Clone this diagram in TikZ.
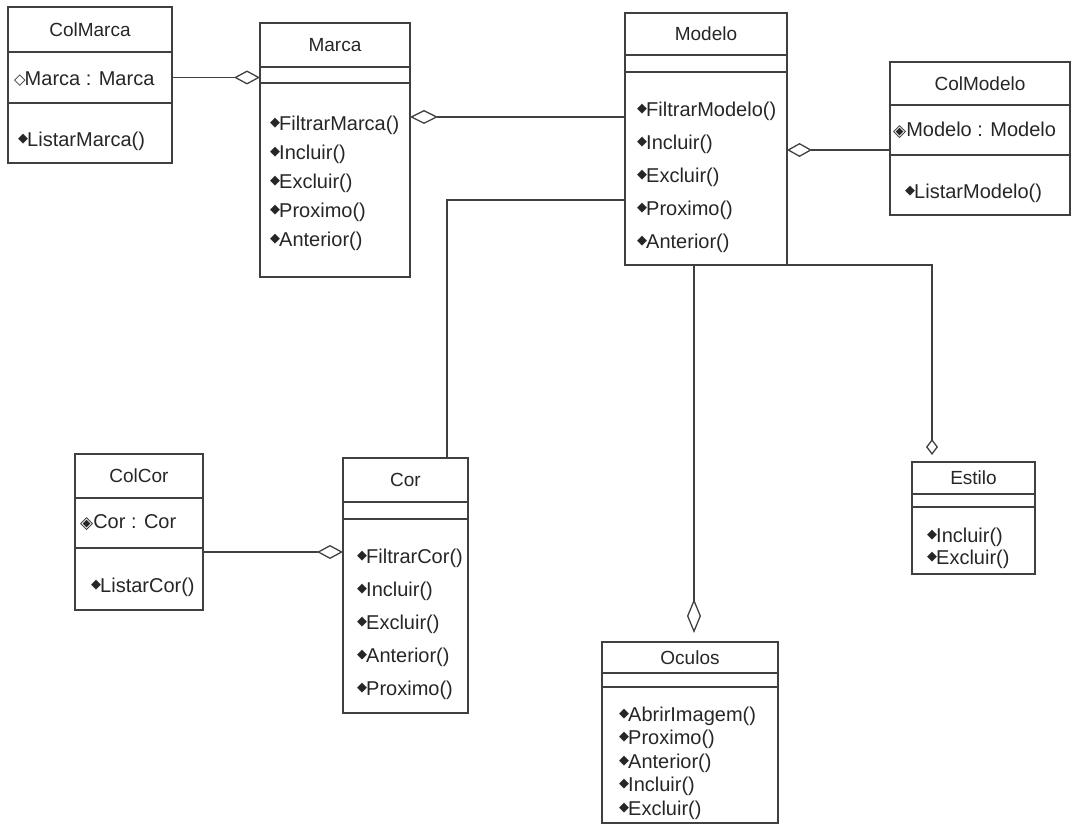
\documentclass[tikz,border=0pt]{standalone}
\usepackage{fontspec}
\setmainfont{Liberation Sans}
\newfontfamily\symfont{DejaVu Sans}
\usetikzlibrary{arrows.meta, positioning}
\newcommand{\opmark}{\raisebox{4pt}{\symfont\fontsize{13}{13}\selectfont ◆}\kern-1pt}
\newcommand{\attrmark}{\raisebox{1pt}{\symfont\fontsize{15}{15}\selectfont ◇}\kern-1pt}
\newcommand{\lockmark}{{\symfont\fontsize{17}{17}\selectfont ◈}}

\begin{document}
\begin{tikzpicture}[
    x=1pt, y=-1pt,
    cls/.style={draw=black!75, line width=1.4pt, anchor=north, inner sep=0pt, outer sep=0pt, text=black!85},
    head/.style={cls, font=\fontsize{19}{22}\selectfont},
    list/.style={align=left, inner sep=0pt, text=black!85, font=\fontsize{20}{#1}\selectfont},
    list/.default=24pt,
    ops/.style={list=#1, yshift=-8pt},
    ops/.default=24pt,
    link/.style={draw=black!75, line width=1.3pt},
    aggr/.style={link, -{Diamond[open, length=#1, width=14pt]}},
    aggr/.default=26pt
]
\useasboundingbox (0,0) rectangle (1072,826);

% ColMarca
\node[head, minimum width=164pt, minimum height=45pt] (colmarca) at (90,7) {ColMarca};
\node[cls, minimum width=164pt, minimum height=51pt, below=0pt of colmarca] (colmarcaA) {};
\node[cls, minimum width=164pt, minimum height=60pt, below=0pt of colmarcaA] (colmarcaO) {};
\node[list, right=6pt of colmarcaA.west, yshift=-2pt] (colmarcaT) {\attrmark Marca : Marca};
\node[ops, right=10pt of colmarcaO.west] (colmarcaL) {\opmark ListarMarca()};

% Marca
\node[head, minimum width=150pt, minimum height=44pt] (marca) at (335,23) {Marca};
\node[cls, minimum width=150pt, minimum height=16pt, below=0pt of marca] (marcaA) {};
\node[cls, minimum width=150pt, minimum height=194pt, below=0pt of marcaA] (marcaO) {};
\node[list=29pt, right=10pt of marcaO.west, yshift=-3pt] (marcaL) {\opmark FiltrarMarca()\\ \opmark Incluir()\\ \opmark Excluir()\\ \opmark Proximo()\\ \opmark Anterior()};

% Modelo
\node[head, minimum width=162pt, minimum height=42pt] (modelo) at (706,13) {Modelo};
\node[cls, minimum width=162pt, minimum height=17pt, below=0pt of modelo] (modeloA) {};
\node[cls, minimum width=162pt, minimum height=193pt, below=0pt of modeloA] (modeloO) {};
\node[ops=33pt, right=12pt of modeloO.west, yshift=-1pt] (modeloL) {\opmark FiltrarModelo()\\ \opmark Incluir()\\ \opmark Excluir()\\ \opmark Proximo()\\ \opmark Anterior()};

% ColModelo
\node[head, minimum width=180pt, minimum height=43pt] (colmodelo) at (980,62) {ColModelo};
\node[cls, minimum width=180pt, minimum height=50pt, below=0pt of colmodelo] (colmodeloA) {};
\node[cls, minimum width=180pt, minimum height=60pt, below=0pt of colmodeloA] (colmodeloO) {};
\node[list, right=3pt of colmodeloA.west] (colmodeloT) {\lockmark Modelo : Modelo};
\node[ops, right=15pt of colmodeloO.west] (colmodeloL) {\opmark ListarModelo()};

% ColCor
\node[head, minimum width=128pt, minimum height=44pt] (colcor) at (139,454) {ColCor};
\node[cls, minimum width=128pt, minimum height=50pt, below=0pt of colcor] (colcorA) {};
\node[cls, minimum width=128pt, minimum height=62pt, below=0pt of colcorA] (colcorO) {};
\node[list, right=5pt of colcorA.west] (colcorT) {\lockmark Cor : Cor};
\node[ops, right=16pt of colcorO.west] (colcorL) {\opmark ListarCor()};

% Cor
\node[head, minimum width=125pt, minimum height=44pt] (cor) at (405.5,458) {Cor};
\node[cls, minimum width=125pt, minimum height=17pt, below=0pt of cor] (corA) {};
\node[cls, minimum width=125pt, minimum height=194pt, below=0pt of corA] (corO) {};
\node[ops=33pt, right=14pt of corO.west] (corL) {\opmark FiltrarCor()\\ \opmark Incluir()\\ \opmark Excluir()\\ \opmark Anterior()\\ \opmark Proximo()};

% Estilo
\node[head, minimum width=123pt, minimum height=32pt] (estilo) at (973.5,462) {Estilo};
\node[cls, minimum width=123pt, minimum height=13pt, below=0pt of estilo] (estiloA) {};
\node[cls, minimum width=123pt, minimum height=67pt, below=0pt of estiloA] (estiloO) {};
\node[ops=22pt, right=15pt of estiloO.west] (estiloL) {\opmark Incluir()\\ \opmark Excluir()};

% Oculos
\node[head, minimum width=176pt, minimum height=31pt] (oculos) at (690,642) {Oculos};
\node[cls, minimum width=176pt, minimum height=14pt, below=0pt of oculos] (oculosA) {};
\node[cls, minimum width=176pt, minimum height=136pt, below=0pt of oculosA] (oculosO) {};
\node[ops=23.5pt, right=17pt of oculosO.west] (oculosL) {\opmark AbrirImagem()\\ \opmark Proximo()\\ \opmark Anterior()\\ \opmark Incluir()\\ \opmark Excluir()};

% connectors
\draw[aggr] (colmarcaA.east) -- (colmarcaA.east -| marcaA.west);
\draw[aggr=28pt] (modeloO.west |- 0,117) -- (marcaO.east |- 0,117);
\draw[aggr=25pt] (colmodeloA.west |- 0,150) -- (modeloO.east |- 0,150);
\draw[aggr] (colcorA.east |- 0,552) -- (corO.west |- 0,552);
\draw[link] ([xshift=41.5pt]cor.north) |- (modeloO.west |- 0,200);
\draw[aggr=34pt, shorten >=9pt] (modeloO.south -| 694,0) -- (oculos.north -| 694,0);
\draw[link, -{Diamond[open, length=16pt, width=12pt]}, shorten >=7pt] (modeloO.south east) -| ([xshift=-41.5pt]estilo.north);
\end{tikzpicture}
\end{document}
